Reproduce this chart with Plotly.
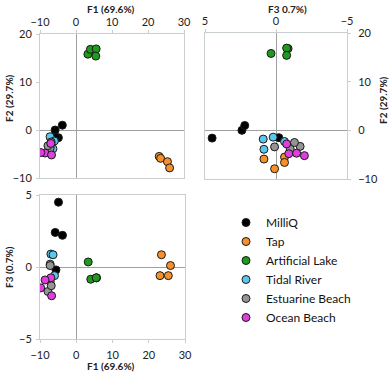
import plotly.graph_objects as go

series_names = ["MilliQ", "Tap", "Artificial Lake", "Tidal River", "Estuarine Beach", "Ocean Beach"]
series_colors = ["#000000", "#f7902a", "#1f9a1f", "#5cc6ee", "#949494", "#e03fe0"]

milliq_f1 = [-4.9, -5.8, -3.8, -5.6]
milliq_f2 = [-1.6, 0.0, 1.0, -1.5]
milliq_f3 = [4.5, 2.4, 2.2, -0.2]

tap_f1 = [23.1, 23.5, 25.4, 26.0]
tap_f2 = [-5.5, -5.9, -6.6, -7.9]
tap_f3 = [-0.6, 0.85, -0.6, 0.1]

lake_f1 = [3.3, 4.0, 5.6, 5.5]
lake_f2 = [15.8, 16.8, 16.9, 15.4]
lake_f3 = [0.35, -0.85, -0.75, -0.75]

river_f1 = [-7.0, -6.4, -7.2, -6.0]
river_f2 = [-1.8, -3.9, -1.4, -2.3]
river_f3 = [0.9, 0.85, 0.2, -0.6]

estuary_f1 = [-7.2, -7.2, -7.8, -6.9]
estuary_f2 = [-3.4, -3.8, -3.3, -2.5]
estuary_f3 = [0.1, -1.0, -1.7, -1.3]

ocean_f1 = [-7.0, -8.6, -9.8, -6.8]
ocean_f2 = [-2.8, -4.8, -4.7, -5.2]
ocean_f3 = [-0.75, -0.9, -1.45, -2.0]

f1_ticks = [-10, 0, 10, 20, 30]
f2_ticks = [-10, 0, 10, 20]
f3_ticks = [-5, 0, 5]

f1_title = "F1 (69.6%)"
f2_title = "F2 (29.7%)"
f3_title_top = "F3 0.7%)"
f3_title_left = "F3 (0.7%)"

data = [
    (milliq_f1, milliq_f2, milliq_f3),
    (tap_f1, tap_f2, tap_f3),
    (lake_f1, lake_f2, lake_f3),
    (river_f1, river_f2, river_f3),
    (estuary_f1, estuary_f2, estuary_f3),
    (ocean_f1, ocean_f2, ocean_f3),
]

FONT = "Lato, 'Open Sans', sans-serif"
fig = go.Figure()

for name, color, (f1, f2, f3) in zip(series_names, series_colors, data):
    mk = dict(size=8, color=color, line=dict(color="#1a1a1a", width=1))
    fig.add_trace(go.Scatter(x=f1, y=f2, mode="markers", name=name, legendgroup=name,
                             marker=mk, xaxis="x", yaxis="y", showlegend=True))
    fig.add_trace(go.Scatter(x=f3, y=f2, mode="markers", name=name, legendgroup=name,
                             marker=mk, xaxis="x2", yaxis="y2", showlegend=False))
    fig.add_trace(go.Scatter(x=f1, y=f3, mode="markers", name=name, legendgroup=name,
                             marker=mk, xaxis="x3", yaxis="y3", showlegend=False))

W, H = 392, 373

def px(a):
    return a / W
def py(a):
    return 1 - a / H
def dx(a, b):
    return [px(a), px(b)]
def dy(top, bot):
    return [py(bot), py(top)]

frame = "#c9cfcf"
zero = "#a0a0a0"
tickfont = dict(family=FONT, size=11, color="#222222")
titlefont = dict(family=FONT, size=10, color="#222222")

def axis(**kw):
    base = dict(showgrid=False, zeroline=True, zerolinecolor=zero, zerolinewidth=1,
                showline=True, linecolor=frame, linewidth=1, mirror=True,
                ticks="outside", ticklen=3, tickcolor=frame, tickfont=tickfont,
                ticklabelstandoff=2, automargin=False)
    base.update(kw)
    return base

def title_ann(text, x, y, angle=0):
    return dict(text="<b>" + text + "</b>", x=px(x), y=py(y), xref="paper", yref="paper",
                xanchor="center", yanchor="middle", showarrow=False, textangle=angle,
                borderpad=0, font=titlefont)

fig.update_layout(
    width=W, height=H,
    margin=dict(l=0, r=0, t=0, b=0),
    paper_bgcolor="white", plot_bgcolor="white",
    font=dict(family=FONT),
    xaxis=axis(domain=dx(40, 184), range=[-10, 30], tickvals=f1_ticks, side="top", anchor="y",
               ticklabelstandoff=0),
    yaxis=axis(domain=dy(34, 178), range=[-10, 20], tickvals=f2_ticks, anchor="x"),
    xaxis2=axis(domain=dx(205, 347), range=[5, -5], tickvals=f3_ticks, side="top", anchor="y2",
                ticklabelstandoff=0),
    yaxis2=axis(domain=dy(33, 179), range=[-10, 20], tickvals=f2_ticks, side="right", anchor="x2",
                ticklabelstandoff=5),
    xaxis3=axis(domain=dx(40, 185), range=[-10, 30], tickvals=f1_ticks, anchor="y3",
                ticklabelstandoff=3),
    yaxis3=axis(domain=dy(195, 339), range=[-5, 5], tickvals=f3_ticks, anchor="x3"),
    annotations=[
        title_ann(f1_title, 111, 8.5),
        title_ann(f2_title, 9, 98, -90),
        title_ann(f3_title_top, 287, 8.5),
        title_ann(f2_title, 383, 100, -90),
        title_ann(f1_title, 111, 365.5),
        title_ann(f3_title_left, 9, 267, -90),
    ],
    legend=dict(x=px(226), y=py(208), xanchor="left", yanchor="top",
                font=dict(family=FONT, size=12, color="#111111"),
                bgcolor="rgba(0,0,0,0)", itemsizing="trace", tracegroupgap=0),
    showlegend=True,
)

# remove the browser's default 8px body margin so the figure fills the window
fig.write_html("out.html", config={"displayModeBar": False},
               post_script="document.body.style.margin='0px';")
